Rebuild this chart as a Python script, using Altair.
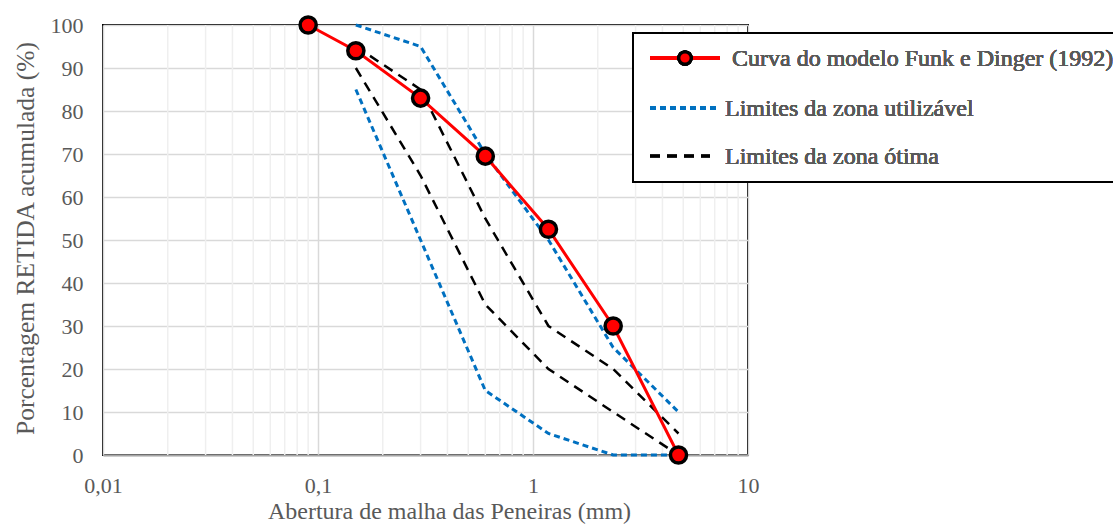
import altair as alt
import pandas as pd

# ---- data ----
sieves = [0.15, 0.3, 0.6, 1.18, 2.36, 4.75]
model_x = [0.09, 0.15, 0.3, 0.6, 1.18, 2.36, 4.75]
model_y = [100, 94, 83, 69.5, 52.5, 30, 0]
usable_upper = [100, 95, 70, 50, 25, 10]
usable_lower = [85, 50, 15, 5, 0, 0]
optimal_upper = [95, 85, 55, 30, 20, 5]
optimal_lower = [90, 65, 35, 20, 10, 0]

x_ticks = [0.01, 0.1, 1, 10]
x_tick_labels = ["0,01", "0,1", "1", "10"]
y_ticks = list(range(0, 101, 10))
minor_x = [0.02, 0.03, 0.04, 0.05, 0.06, 0.07, 0.08, 0.09,
           0.2, 0.3, 0.4, 0.5, 0.6, 0.7, 0.8, 0.9,
           2, 3, 4, 5, 6, 7, 8, 9]

legend_labels = ["Curva do modelo Funk e Dinger (1992)",
                 "Limites da zona utilizável",
                 "Limites da zona ótima"]

FONT = "Liberation Serif"
TXT = "#595959"
RED = "#FF0000"
BLUE = "#0070C0"

model_df = pd.DataFrame({"x": model_x, "y": model_y})
usable_df = pd.DataFrame({
    "x": sieves + sieves,
    "y": usable_upper + usable_lower,
    "seg": ["upper"] * len(sieves) + ["lower"] * len(sieves),
})
optimal_df = pd.DataFrame({
    "x": sieves + sieves,
    "y": optimal_upper + optimal_lower,
    "seg": ["upper"] * len(sieves) + ["lower"] * len(sieves),
})
minor_df = pd.DataFrame({"x": minor_x})

label_expr = " : ".join(
    f"datum.value == {v} ? '{l}'" for v, l in zip(x_ticks, x_tick_labels)
) + " : datum.label"

xscale = alt.Scale(type="log", domain=[0.01, 10], nice=False)
yscale = alt.Scale(domain=[0, 100], nice=False)

xaxis = alt.Axis(values=x_ticks, labelExpr=label_expr, title="Abertura de malha das Peneiras (mm)",
                 grid=True, gridColor="#d9d9d9", gridWidth=1.5, ticks=False,
                 domainColor="#a6a6a6", domainWidth=2, labelFlush=False, labelOverlap=False,
                 labelPadding=20, titlePadding=3, titleX=346, titleFontSize=24)
yaxis = alt.Axis(values=y_ticks, title="Porcentagem RETIDA acumulada (%)",
                 grid=True, gridColor="#d9d9d9", gridWidth=1.5, ticks=False,
                 domain=False, labelPadding=20, titlePadding=12, titleFontSize=25.5, titleY=213)

minor = alt.Chart(minor_df).mark_rule(color="#efefef", strokeWidth=1.5).encode(
    x=alt.X("x:Q", scale=xscale, axis=xaxis)
)

base_axes = alt.Chart(model_df).mark_point(opacity=0).encode(
    x=alt.X("x:Q", scale=xscale, axis=xaxis),
    y=alt.Y("y:Q", scale=yscale, axis=yaxis),
)

usable = alt.Chart(usable_df).mark_line(color=BLUE, strokeWidth=3, strokeDash=[6, 4], clip=False).encode(
    x=alt.X("x:Q", scale=xscale),
    y=alt.Y("y:Q", scale=yscale),
    detail="seg:N",
)
optimal = alt.Chart(optimal_df).mark_line(color="black", strokeWidth=2.5, strokeDash=[10, 7], clip=False).encode(
    x=alt.X("x:Q", scale=xscale),
    y=alt.Y("y:Q", scale=yscale),
    detail="seg:N",
)
model_line = alt.Chart(model_df).mark_line(color=RED, strokeWidth=3, clip=False).encode(
    x=alt.X("x:Q", scale=xscale),
    y=alt.Y("y:Q", scale=yscale),
)
model_pts = alt.Chart(model_df).mark_point(
    filled=True, fill=RED, stroke="black", strokeWidth=3.5, size=260, opacity=1, shape="circle", clip=False
).encode(
    x=alt.X("x:Q", scale=xscale),
    y=alt.Y("y:Q", scale=yscale),
)

# ---- legend box (drawn manually) ----
leg_box = alt.Chart(model_df).mark_rect(fill="white", stroke="black", strokeWidth=2, clip=False).encode(
    x=alt.value(530), x2=alt.value(1040), y=alt.value(8), y2=alt.value(157)
)
leg_red = alt.Chart(model_df).mark_rule(color=RED, strokeWidth=3, clip=False).encode(
    x=alt.value(547), x2=alt.value(617), y=alt.value(33)
)
leg_red_pt = alt.Chart(model_df).mark_point(
    filled=True, fill=RED, stroke="black", strokeWidth=3, size=150, opacity=1, clip=False
).encode(x=alt.value(582), y=alt.value(33))
leg_blue = alt.Chart(model_df).mark_rule(color=BLUE, strokeWidth=3, strokeDash=[6, 4], clip=False).encode(
    x=alt.value(547), x2=alt.value(617), y=alt.value(83)
)
leg_black = alt.Chart(model_df).mark_rule(color="black", strokeWidth=2.5, strokeDash=[10, 7], clip=False).encode(
    x=alt.value(547), x2=alt.value(607), y=alt.value(131)
)
text_kw = dict(align="left", baseline="middle", font=FONT, fontSize=24, fontWeight="normal", color=TXT, clip=False)
leg_t1 = alt.Chart(model_df).mark_text(**text_kw).encode(
    x=alt.value(629), y=alt.value(34), text=alt.value(legend_labels[0])
)
leg_t2 = alt.Chart(model_df).mark_text(**text_kw).encode(
    x=alt.value(622), y=alt.value(84), text=alt.value(legend_labels[1])
)
leg_t3 = alt.Chart(model_df).mark_text(**text_kw).encode(
    x=alt.value(622), y=alt.value(132), text=alt.value(legend_labels[2])
)

chart = alt.layer(
    minor, base_axes, usable, optimal, model_line, model_pts,
    leg_box, leg_red, leg_red_pt, leg_blue, leg_black, leg_t1, leg_t2, leg_t3
).properties(
    width=645, height=430,
    padding={"left": 103, "top": 25, "right": 365, "bottom": 69},
    autosize=alt.AutoSizeParams(type="none"),
    background="white",
).configure_view(
    stroke="black", strokeWidth=2
).configure_axis(
    labelFont=FONT, titleFont=FONT, labelFontSize=22,
    labelColor=TXT, titleColor=TXT, titleFontWeight="normal",
)

chart.save("out.html", embed_options={"renderer": "svg", "actions": False})
